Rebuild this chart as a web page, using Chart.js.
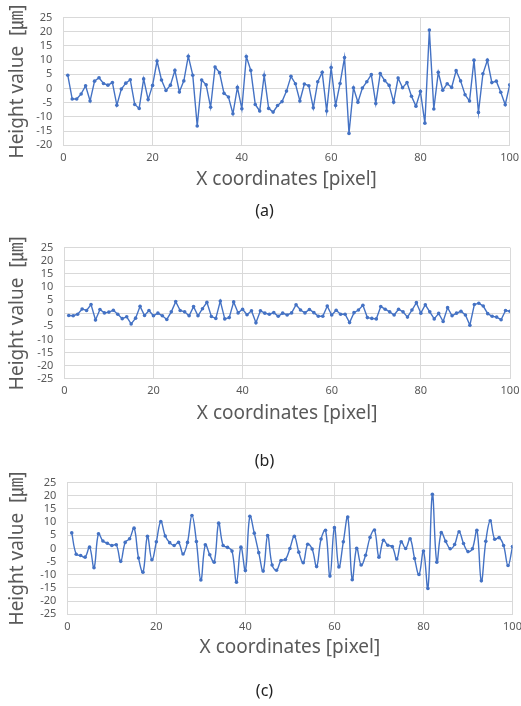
<!DOCTYPE html>
<html>
<head>
<meta charset="utf-8">
<script src="https://cdn.jsdelivr.net/npm/chart.js@4/dist/chart.umd.min.js"></script>
<style>
  html, body { margin: 0; padding: 0; background: #ffffff; }
  body { width: 521px; height: 706px; position: relative; overflow: hidden; }
  .box { position: absolute; left: 0; width: 521px; height: 200px; }
  .cap { position: absolute; left: 0; width: 521px; text-align: center;
         font-family: "Noto Sans", "DejaVu Sans", sans-serif; font-size: 16px; color: #222; }
</style>
</head>
<body>
<div class="box" style="top:0px"><canvas id="cA" width="521" height="200"></canvas></div>
<div class="cap" style="top:199px; left:4px">(a)</div>
<div class="box" style="top:230px"><canvas id="cB" width="521" height="200"></canvas></div>
<div class="cap" style="top:449px; left:4px">(b)</div>
<div class="box" style="top:465px"><canvas id="cC" width="521" height="200"></canvas></div>
<div class="cap" style="top:679px; left:4px">(c)</div>
<script>
// ---- data ----
const xCoords = [1,2,3,4,5,6,7,8,9,10,11,12,13,14,15,16,17,18,19,20,
  21,22,23,24,25,26,27,28,29,30,31,32,33,34,35,36,37,38,39,40,
  41,42,43,44,45,46,47,48,49,50,51,52,53,54,55,56,57,58,59,60,
  61,62,63,64,65,66,67,68,69,70,71,72,73,74,75,76,77,78,79,80,
  81,82,83,84,85,86,87,88,89,90,91,92,93,94,95,96,97,98,99,100];

const heightA = [4.7,-3.7,-3.7,-1.9,1.0,-4.4,2.6,3.8,1.8,1.2,
  2.1,-5.9,-0.2,1.9,3.1,-5.6,-7.0,3.4,-3.9,1.1,
  9.7,3.0,-0.7,1.2,6.4,-1.2,2.7,11.4,4.7,-13.2,
  3.0,1.3,-6.6,7.6,5.6,-1.7,-3.0,-8.9,0.4,-7.1,
  11.3,6.4,-5.6,-7.9,4.7,-7.0,-8.3,-6.0,-4.6,-0.9,
  4.3,1.7,-4.4,1.6,1.0,-6.8,2.4,5.7,-7.9,7.4,
  -6.0,1.8,10.9,-15.8,0.3,-4.8,0.2,2.4,4.9,-5.3,
  5.3,2.8,1.1,-4.8,3.7,0.3,2.1,-2.7,-6.2,-1.0,
  -12.2,20.6,-7.2,5.7,-0.6,1.7,0.4,6.3,2.7,-2.2,
  -4.4,10.0,-8.4,5.2,10.0,2.1,2.6,-1.3,-5.7,1.3];

const heightB = [-0.9,-1.0,-0.4,1.6,1.0,3.3,-2.6,1.4,0.1,0.4,
  1.1,-0.4,-2.1,-1.4,-4.1,-1.9,2.6,-0.9,1.0,-1.0,
  0.0,-1.0,-2.4,0.5,4.4,1.0,0.5,-1.0,2.5,-1.0,
  1.7,4.1,-1.3,-2.0,4.6,-2.2,-1.7,4.3,0.1,1.5,
  -0.6,0.9,-3.7,0.9,0.0,-0.4,0.2,-1.2,0.0,-0.7,
  0.1,3.2,1.2,0.1,1.4,0.2,-1.2,-1.2,2.7,-0.7,
  1.1,-0.4,-0.4,-3.6,0.2,1.2,3.0,-1.7,-2.0,-2.2,
  2.5,1.5,0.5,-0.7,1.5,0.5,-1.5,1.2,4.0,0.0,
  3.2,0.5,-2.2,-0.1,-3.2,2.1,-1.0,0.0,0.7,-0.7,
  -4.6,3.3,3.8,2.7,-0.2,-1.2,-1.5,-2.5,1.0,0.7];

const heightC = [5.9,-2.2,-2.7,-3.3,0.5,-7.3,5.6,2.8,2.0,1.1,
  1.4,-4.9,2.3,3.7,7.7,-3.6,-9.0,4.6,-4.3,2.5,
  10.2,4.7,2.2,1.1,2.3,-2.1,2.3,12.5,2.6,-12.0,
  1.4,-2.4,-5.2,9.6,1.1,0.4,-1.0,-12.8,0.5,-8.4,
  12.2,5.8,-1.6,-8.6,4.9,-6.3,-8.3,-4.6,-4.2,0.0,
  4.6,-1.4,-5.4,1.6,-0.2,-6.9,3.6,6.9,-10.5,7.9,
  -7.0,2.5,11.9,-11.9,0.1,-6.3,-2.6,4.2,7.0,-3.3,
  3.1,1.2,0.7,-4.0,2.5,0.0,3.7,-3.8,-9.9,-1.0,
  -15.2,20.6,-5.2,6.0,2.7,-0.1,1.5,6.3,1.9,-1.2,
  -0.1,6.9,-12.3,2.7,10.5,3.5,4.1,1.1,-6.5,0.7];

const yTitle = "Height value  [\u339B]";
const xTitle = "X coordinates [pixel]";

// ---- chart builder ----
const GRID = "#d9d9d9";
const BLUE = "#4472C4";
const TITLE_FONT = '"Noto Sans", "Noto Sans CJK KR", "DejaVu Sans", sans-serif';
const TICK_FONT = '"Noto Sans", "DejaVu Sans", sans-serif';

function makeChart(id, values, cfg) {
  const pts = xCoords.map((x, i) => ({ x: x, y: values[i] }));
  return new Chart(document.getElementById(id), {
    type: 'line',
    data: { datasets: [{
      data: pts,
      borderColor: BLUE,
      backgroundColor: BLUE,
      borderWidth: 1.4,
      pointRadius: 1.8,
      pointBorderWidth: 0,
      pointBackgroundColor: BLUE,
      tension: cfg.tension,
      fill: false
    }]},
    options: {
      responsive: false,
      devicePixelRatio: 1,
      animation: false,
      layout: { padding: { top: cfg.top, right: cfg.right, bottom: 0, left: 0 } },
      plugins: { legend: { display: false }, tooltip: { enabled: false } },
      scales: {
        x: {
          type: 'linear', min: 0, max: 100,
          ticks: { stepSize: 20, autoSkip: false, color: '#595959', font: { family: TICK_FONT, size: 11 }, padding: 6, maxRotation: 0 },
          grid: { color: GRID, drawTicks: false },
          border: { color: GRID },
          title: { display: true, text: xTitle, color: '#595959',
                   font: { family: TITLE_FONT, size: 19 }, padding: { top: 0, bottom: cfg.xtPad } },
          afterFit: (s) => { s.height = cfg.xh; s.paddingLeft = 0; s.paddingRight = 0; }
        },
        y: {
          min: cfg.ymin, max: 25,
          ticks: { stepSize: 5, autoSkip: false, color: '#595959', font: { family: TICK_FONT, size: 11 }, padding: 11 },
          grid: { color: GRID, drawTicks: false },
          border: { color: GRID },
          title: { display: true, text: yTitle, color: '#595959',
                   font: { family: TITLE_FONT, size: 19 }, padding: { top: 6, bottom: 0 } },
          afterFit: (s) => { s.width = cfg.yw; }
        }
      }
    }
  });
}

makeChart('cA', heightA, { tension: 0, ymin: -20, top: 10.3, right: 11.3, xh: 54.7, xtPad: 8.6, yw: 63.3 });
makeChart('cB', heightB, { tension: 0, ymin: -25, top: 14, right: 11, xh: 51.3, xtPad: 4.6, yw: 64.3 });
makeChart('cC', heightC, { tension: 0.4, ymin: -25, top: 14.3, right: 8.5, xh: 50.7, xtPad: 5.6, yw: 67.3 });
</script>
</body>
</html>
